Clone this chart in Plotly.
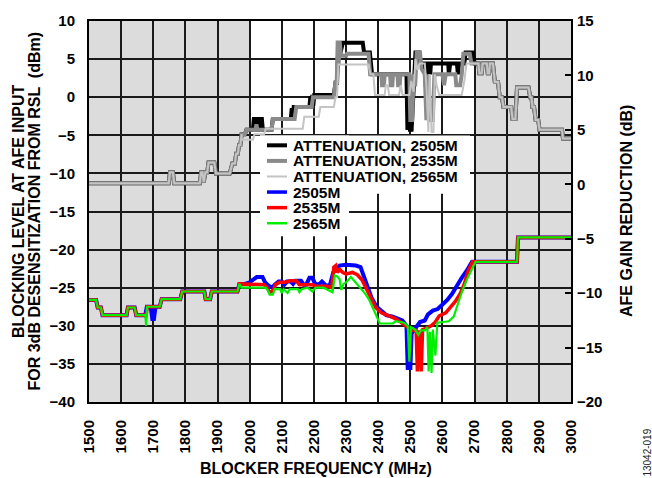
import plotly.graph_objects as go

# ---------------- data ----------------
# common low-frequency part of the three attenuation curves (AFE gain reduction, dB)
att_common_f = [1500, 1748, 1752, 1761, 1765, 1845, 1849, 1853, 1857, 1862, 1868, 1872, 1890, 1895,
                1938, 1946, 1954, 1958, 1963, 1967, 1971, 1975, 1985, 1990]
att_common_v = [0.1, 0.1, 1.1, 1.1, 0.1, 0.1, 1.1, 1.1, 0.2, 1.1, 1.1, 2.0, 2.0, 1.0,
                1.0, 1.9, 1.9, 2.8, 2.8, 3.6, 3.6, 4.6, 4.6, 5.0]

# common high-frequency part (above ~2710 MHz)
att_tail_f = [2712, 2715, 2722, 2725, 2738, 2741, 2745, 2748, 2757, 2763, 2773, 2778, 2785, 2790,
              2814, 2818, 2827, 2832, 2868, 2873, 2877, 2880, 2885, 2890, 2898, 2902, 2972, 2975, 3000]
att_tail_v = [11.1, 10.2, 10.2, 11.1, 11.1, 10.2, 10.2, 11.1, 11.1, 9.4, 9.4, 8.0, 8.0, 7.1,
              7.1, 6.0, 6.0, 8.9, 8.9, 8.0, 8.0, 7.1, 7.1, 5.9, 5.9, 5.0, 5.0, 4.2, 4.2]

att2505_f = [2010, 2013, 2020, 2023, 2028, 2031, 2038, 2041, 2068, 2072, 2128, 2131, 2134, 2137,
             2186, 2189, 2192, 2195, 2198, 2201, 2262, 2267, 2272, 2276, 2282, 2290, 2352, 2356,
             2374, 2381, 2488, 2491, 2496, 2499, 2504, 2508, 2516, 2528, 2532, 2545, 2548, 2551,
             2560, 2562, 2564, 2618, 2620, 2624, 2645, 2648, 2652, 2668, 2672, 2695, 2700]
att2505_v = [5.0, 6.0, 6.0, 5.0, 5.0, 6.0, 6.0, 5.0, 5.0, 6.0, 6.0, 7.0, 6.0, 7.1,
             7.1, 8.1, 7.2, 8.2, 7.2, 8.2, 8.2, 9.3, 9.3, 13.0, 12.0, 13.0, 13.0, 12.1,
             12.1, 10.1, 10.1, 5.0, 10.1, 5.0, 5.0, 8.0, 12.1, 12.1, 11.1, 11.1, 9.0, 11.1,
             11.1, 10.1, 11.1, 11.1, 10.1, 11.1, 11.1, 10.1, 11.1, 11.1, 12.1, 12.1, 11.1]

att2535_f = [2000, 2018, 2021, 2024, 2068, 2072, 2140, 2145, 2193, 2197, 2262, 2267, 2271, 2274,
             2277, 2280, 2284, 2300, 2303, 2370, 2375, 2410, 2412, 2418, 2420, 2437, 2439, 2444,
             2446, 2460, 2462, 2467, 2469, 2497, 2500, 2506, 2510, 2515, 2520, 2530, 2535, 2545,
             2550, 2556, 2561, 2570, 2575, 2600, 2605, 2610, 2640, 2643, 2655, 2660, 2665, 2685,
             2690]
att2535_v = [5.0, 5.0, 5.5, 5.0, 5.0, 6.0, 6.0, 7.1, 7.1, 8.0, 8.0, 9.4, 9.4, 13.2,
             11.0, 13.2, 11.8, 11.8, 12.0, 12.0, 10.1, 10.1, 9.1, 9.1, 10.1, 10.1, 9.1, 9.1,
             10.1, 10.1, 9.1, 9.1, 10.1, 10.1, 5.9, 5.9, 10.1, 9.0, 12.1, 12.1, 10.6, 10.1,
             5.9, 10.1, 5.9, 5.9, 10.1, 10.1, 9.1, 10.1, 10.1, 9.1, 9.1, 10.1, 12.0, 12.0,
             11.1]

att2565_f = [1975, 2010, 2015, 2045, 2050, 2165, 2170, 2215, 2220, 2262, 2267, 2272, 2276, 2370,
             2376, 2385, 2390, 2420, 2424, 2430, 2434, 2465, 2470, 2476, 2497, 2503, 2510, 2516,
             2522, 2530, 2545, 2550, 2556, 2560, 2566, 2572, 2576, 2582, 2590, 2660, 2668, 2675,
             2700]
att2565_v = [4.1, 4.1, 4.6, 4.6, 5.1, 5.1, 6.2, 6.2, 7.1, 7.1, 8.0, 8.0, 11.0, 11.0,
             10.1, 10.1, 8.2, 8.2, 9.1, 9.1, 8.2, 8.2, 9.1, 8.2, 8.2, 9.5, 8.5, 11.5,
             10.5, 11.1, 11.1, 9.1, 4.8, 10.1, 4.8, 4.8, 10.1, 9.1, 8.2, 8.2, 9.5, 11.1,
             11.1]

# blocking level (dBm) - common low-frequency part
blk_common_f = [1500, 1522, 1527, 1537, 1542, 1617, 1621, 1642, 1647, 1675]
blk_common_v = [-26.6, -26.6, -27.6, -27.6, -28.6, -28.6, -27.6, -27.6, -28.6, -28.6]
blk_mid_f = [1720, 1726, 1784, 1790, 1859, 1863, 1877, 1882, 1962, 1968]
blk_mid_v = [-27.5, -26.5, -26.5, -25.5, -25.5, -26.5, -26.5, -25.5, -25.5, -24.5]
blk_tail_f = [2832, 2835, 3000]
blk_tail_v = [-21.6, -18.4, -18.4]

b2505_dip_f = [1680, 1692, 1697, 1702, 1707]
b2505_dip_v = [-27.5, -27.5, -29.1, -29.1, -27.5]
b2535_dip_f = [1677, 1681, 1705]
b2535_dip_v = [-28.9, -27.5, -27.5]
b2565_dip_f = [1678, 1681, 1705]
b2565_dip_v = [-30.0, -27.5, -27.5]

b2505_f = [1985, 2000, 2012, 2022, 2040, 2048, 2058, 2070, 2078, 2090, 2100, 2108, 2116, 2128,
           2135, 2142, 2160, 2168, 2176, 2186, 2195, 2204, 2215, 2225, 2240, 2250, 2260, 2270,
           2280, 2300, 2330, 2345, 2355, 2365, 2380, 2395, 2410, 2425, 2445, 2460, 2475, 2488,
           2492, 2496, 2500, 2504, 2512, 2520, 2530, 2545, 2555, 2570, 2585, 2600, 2615, 2630,
           2645, 2660, 2675, 2692]
b2505_v = [-24.5, -24.3, -24.0, -23.6, -23.6, -24.3, -24.7, -25.0, -24.6, -24.2, -24.2, -24.6, -24.2, -24.2,
           -24.5, -24.1, -24.1, -24.6, -24.6, -23.7, -23.7, -24.5, -24.6, -24.2, -24.8, -24.6, -23.0, -22.6,
           -22.1, -22.0, -22.1, -22.3, -23.5, -24.8, -26.4, -27.5, -28.0, -28.6, -28.8, -29.0, -29.3, -30.0,
           -35.8, -30.5, -35.8, -31.0, -30.6, -30.0, -29.5, -29.3, -28.5, -28.0, -27.8, -27.2, -26.6, -25.8,
           -24.7, -23.7, -22.8, -21.6]

b2535_f = [1985, 2000, 2045, 2055, 2062, 2072, 2080, 2092, 2110, 2125, 2145, 2155, 2195, 2205,
           2240, 2255, 2262, 2268, 2273, 2280, 2290, 2300, 2320, 2335, 2350, 2365, 2378, 2392,
           2410, 2430, 2450, 2470, 2485, 2505, 2518, 2522, 2526, 2530, 2534, 2538, 2550, 2565,
           2578, 2590, 2610, 2625, 2640, 2655, 2668, 2680, 2694]
b2535_v = [-24.5, -24.6, -24.6, -25.0, -25.6, -25.5, -24.6, -24.3, -24.3, -24.1, -24.1, -24.6, -24.6, -24.8,
           -24.8, -25.0, -22.3, -22.1, -23.0, -22.6, -23.0, -23.2, -23.0, -23.3, -24.0, -25.3, -26.5, -27.6,
           -28.3, -28.6, -29.0, -29.5, -30.0, -30.6, -30.6, -36.0, -30.8, -30.8, -36.0, -30.5, -30.3, -30.0,
           -29.5, -28.7, -28.3, -27.5, -26.8, -25.8, -24.5, -22.8, -21.6]

b2565_f = [1975, 2050, 2058, 2062, 2072, 2078, 2095, 2100, 2106, 2118, 2125, 2150, 2155, 2162,
           2180, 2195, 2205, 2230, 2245, 2258, 2265, 2272, 2280, 2285, 2292, 2300, 2315, 2330,
           2345, 2360, 2372, 2380, 2395, 2405, 2445, 2455, 2480, 2492, 2497, 2502, 2515, 2525,
           2533, 2545, 2553, 2557, 2561, 2566, 2570, 2578, 2584, 2600, 2620, 2635, 2648, 2660,
           2675, 2690, 2703]
b2565_v = [-25.0, -25.0, -25.4, -25.9, -25.9, -25.2, -25.2, -25.7, -25.2, -25.7, -25.2, -25.2, -25.6, -25.2,
           -25.0, -25.5, -25.0, -25.0, -25.3, -25.6, -23.4, -23.5, -23.9, -25.3, -24.5, -24.3, -23.6, -24.3,
           -25.0, -25.8, -26.6, -27.3, -28.6, -29.7, -29.7, -29.4, -29.6, -30.0, -34.7, -30.2, -30.5, -31.2,
           -30.6, -30.6, -30.2, -36.0, -30.8, -36.2, -30.5, -33.9, -29.6, -29.5, -29.4, -28.8, -27.0, -25.6,
           -24.0, -22.8, -21.6]

legend_labels = ["ATTENUATION, 2505M", "ATTENUATION, 2535M", "ATTENUATION, 2565M",
                 "2505M", "2535M", "2565M"]
x_ticks = list(range(1500, 3001, 100))

# ---------------- layout constants ----------------
W, H = 652, 478
ML, MR, MT, MB = 89, 81, 18, 76
PW, PH = W - ML - MR, H - MT - MB
FONT = "Liberation Sans, Arial, sans-serif"
C_BLACK, C_GRAY, C_LGRAY = "#000000", "#8a8a8a", "#c4c4c4"
C_BLUE, C_RED, C_GREEN = "#0000ff", "#ff0000", "#00ee00"


def px(x):
    return (x - ML) / PW


def py(y):
    return (MT + PH - y) / PH


fig = go.Figure()

att_series = [
    (att_common_f + att2505_f + att_tail_f, att_common_v + att2505_v + att_tail_v, C_BLACK, 4),
    (att_common_f + att2535_f + att_tail_f, att_common_v + att2535_v + att_tail_v, C_GRAY, 4),
    (att_common_f[:-2] + att2565_f + att_tail_f, att_common_v[:-2] + att2565_v + att_tail_v, C_LGRAY, 2),
]
for fx, fy, col, w in att_series:
    fig.add_trace(go.Scatter(x=fx, y=fy, yaxis="y2", mode="lines",
                             line=dict(color=col, width=w), showlegend=False, hoverinfo="skip"))

blk_series = [
    (blk_common_f + b2505_dip_f + blk_mid_f + b2505_f + blk_tail_f,
     blk_common_v + b2505_dip_v + blk_mid_v + b2505_v + blk_tail_v, C_BLUE, 4),
    (blk_common_f + b2535_dip_f + blk_mid_f + b2535_f + blk_tail_f,
     blk_common_v + b2535_dip_v + blk_mid_v + b2535_v + blk_tail_v, C_RED, 3.5),
    (blk_common_f + b2565_dip_f + blk_mid_f + b2565_f + blk_tail_f,
     blk_common_v + b2565_dip_v + blk_mid_v + b2565_v + blk_tail_v, C_GREEN, 2.2),
]
for fx, fy, col, w in blk_series:
    fig.add_trace(go.Scatter(x=fx, y=fy, mode="lines",
                             line=dict(color=col, width=w), showlegend=False, hoverinfo="skip"))

shapes = []
# shaded out-of-band regions
for x0, x1 in [(1500, 2000), (2700, 3000)]:
    shapes.append(dict(type="rect", xref="x", yref="paper", x0=x0, x1=x1, y0=0, y1=1,
                       fillcolor="#dcdcdc", line=dict(width=0), layer="below"))
# legend white background (stepped)
shapes.append(dict(type="rect", xref="paper", yref="paper", x0=px(260), x1=px(470),
                   y0=py(192), y1=py(133.5), fillcolor="white", line=dict(width=0), layer="above"))
shapes.append(dict(type="rect", xref="paper", yref="paper", x0=px(260), x1=px(349),
                   y0=py(235), y1=py(133.5), fillcolor="white", line=dict(width=0), layer="above"))

annotations = []
row_y = [143.3, 159.0, 174.7, 190.4, 206.1, 221.8]
leg_cols = [C_BLACK, C_GRAY, C_LGRAY, C_BLUE, C_RED, C_GREEN]
leg_w = [4, 4, 2, 3.5, 3.5, 2.5]
for lab, yy, col, lw in zip(legend_labels, row_y, leg_cols, leg_w):
    shapes.append(dict(type="line", xref="paper", yref="paper", x0=px(267), x1=px(287),
                       y0=py(yy), y1=py(yy), line=dict(color=col, width=lw), layer="above"))
    annotations.append(dict(text=lab, xref="paper", yref="paper", x=px(292), y=py(yy),
                            xanchor="left", yanchor="middle", showarrow=False,
                            height=15, borderpad=0,
                            font=dict(family=FONT, size=15.5, color="black", weight="bold")))

title_font = dict(family=FONT, size=16, color="black", weight="bold")
annotations += [
    dict(text="BLOCKING LEVEL AT AFE INPUT", xref="paper", yref="paper", x=px(18.5), y=py(210),
         textangle=-90, showarrow=False, xanchor="center", yanchor="middle", font=title_font),
    dict(text="FOR 3dB DESENSITIZATION FROM RSL  (dBm)", xref="paper", yref="paper", x=px(34),
         y=py(210), textangle=-90, showarrow=False, xanchor="center", yanchor="middle", font=title_font),
    dict(text="AFE GAIN REDUCTION (dB)", xref="paper", yref="paper", x=px(626.5), y=py(210),
         textangle=-90, showarrow=False, xanchor="center", yanchor="middle", font=title_font),
    dict(text="BLOCKER FREQUENCY (MHz)", xref="paper", yref="paper", x=px(316), y=py(469),
         showarrow=False, xanchor="center", yanchor="middle", font=title_font),
    dict(text="13042-019", xref="paper", yref="paper", x=px(648), y=py(453), textangle=-90,
         showarrow=False, xanchor="center", yanchor="middle",
         font=dict(family=FONT, size=10, color="#222222")),
]

tick_font = dict(family=FONT, size=15, color="black", weight="bold")
fig.update_layout(
    width=W, height=H, margin=dict(l=ML, r=MR, t=MT, b=MB),
    paper_bgcolor="white", plot_bgcolor="white",
    shapes=shapes, annotations=annotations, showlegend=False,
    xaxis=dict(range=[1500, 3000], tickvals=x_ticks, ticktext=[str(t) for t in x_ticks],
               tickangle=-90, tickfont=tick_font, ticks="", ticklabelstandoff=10,
               showgrid=True, gridcolor="#1a1a1a", gridwidth=1.6, zeroline=False,
               showline=True, linecolor="black", linewidth=2, mirror=True),
    yaxis=dict(range=[-40, 10], dtick=5, tickfont=tick_font, ticks="", ticklabelstandoff=9,
               showgrid=True, gridcolor="#1a1a1a", gridwidth=1.6, zeroline=False,
               showline=True, linecolor="black", linewidth=2, mirror=True),
    yaxis2=dict(range=[-20, 15], dtick=5, overlaying="y", side="right", tickfont=tick_font,
                ticks="inside", ticklen=6, tickwidth=1.6, tickcolor="black", ticklabelstandoff=5,
                showgrid=False, zeroline=False, showline=False),
)

fig.write_html("out.html")
